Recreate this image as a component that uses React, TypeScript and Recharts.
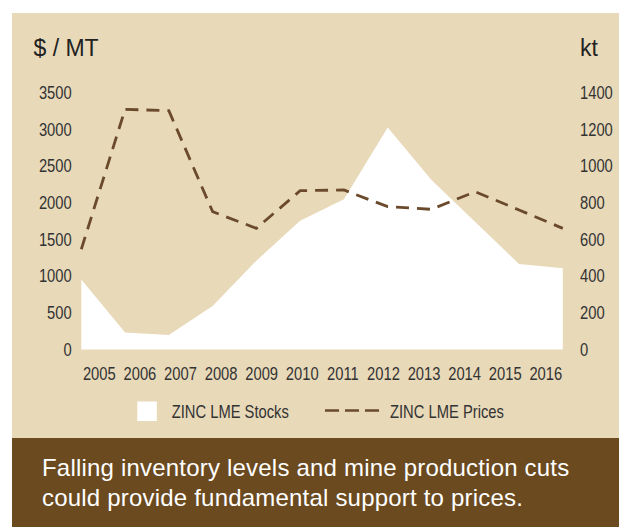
import React from "react";
import {
  ComposedChart,
  Area,
  Line,
  XAxis,
  YAxis,
  Legend,
} from "recharts";

const years = ["2005", "2006", "2007", "2008", "2009", "2010", "2011", "2012", "2013", "2014", "2015", "2016"];
// LME zinc stocks, kt (right axis)
const stocks = [382, 92, 79, 237, 484, 702, 818, 1210, 923, 694, 466, 442];
// LME zinc prices, $ / MT (left axis)
const prices = [1365, 3271, 3252, 1877, 1650, 2163, 2172, 1945, 1909, 2149, 1900, 1650];
const priceTicks = [0, 500, 1000, 1500, 2000, 2500, 3000, 3500];
const stockTicks = [0, 200, 400, 600, 800, 1000, 1200, 1400];

const data = years.map((y, i) => ({ i, year: y, stocks: stocks[i], prices: prices[i] }));

const BEIGE = "#e8d9b9";
const BROWN = "#6b4a1f";
const LINE = "#6b4a2b";
const SANS = "'Liberation Sans', Arial, sans-serif";
// no narrow face installed, so squeeze Liberation Sans like Arial Narrow does
const SQUEEZE = 0.82;

function NarrowText({ x, y, anchor, dy, children }: any) {
  return (
    <g transform={`translate(${x},${y})`}>
      <text
        transform={`scale(${SQUEEZE},1)`}
        textAnchor={anchor}
        dy={dy}
        fontFamily={SANS}
        fontSize={18}
        fill="#333"
      >
        {children}
      </text>
    </g>
  );
}

function YTick(props: any) {
  const { x, y, payload, textAnchor } = props;
  return (
    <NarrowText x={x} y={y} anchor={textAnchor} dy="0.355em">
      {payload.value}
    </NarrowText>
  );
}

function XTick(props: any) {
  const { x, y, payload } = props;
  return (
    <NarrowText x={x} y={y} anchor="middle" dy="0.71em">
      {years[payload.value]}
    </NarrowText>
  );
}

function ChartLegend(props: any) {
  const items = props.payload || [];
  const stock = items.find((it: any) => it.dataKey === "stocks");
  const price = items.find((it: any) => it.dataKey === "prices");
  return (
    <svg width={619} height={24} style={{ display: "block" }}>
      <rect x={137.3} y={1.5} width={19.5} height={19.5} fill="#fff" />
      <NarrowText x={171.7} y={11.5} anchor="start" dy="0.355em">
        {stock?.value}
      </NarrowText>
      <line x1={325} y1={10.5} x2={380} y2={10.5} stroke={LINE} strokeWidth={2.7} strokeDasharray="14 6" />
      <NarrowText x={390} y={11.5} anchor="start" dy="0.355em">
        {price?.value}
      </NarrowText>
    </svg>
  );
}

export default function App() {
  return (
    <div style={{ position: "relative", width: 619, height: 527, background: "#fff" }}>
      <style>{"body{margin:0}"}</style>
      <div style={{ position: "absolute", left: 12, top: 13, width: 607, height: 425, background: BEIGE }} />
      <div style={{ position: "absolute", left: 0, top: 0 }}>
        <ComposedChart width={619} height={438} data={data} margin={{ top: 92.5, right: 0, bottom: 58.5, left: 0 }}>
          <XAxis xAxisId="data" dataKey="i" type="number" domain={[0, 11]} height={0} hide />
          <XAxis
            xAxisId="labels"
            dataKey="i"
            type="number"
            domain={[0, 11]}
            ticks={data.map((d) => d.i)}
            padding={{ left: 18, right: 17 }}
            axisLine={false}
            tickLine={false}
            tickSize={0}
            tickMargin={17.5}
            height={30}
            interval={0}
            tick={<XTick />}
          />
          <YAxis
            yAxisId="left"
            orientation="left"
            domain={[0, 3500]}
            ticks={priceTicks}
            width={81.3}
            axisLine={false}
            tickLine={false}
            tickSize={0}
            tickMargin={9.6}
            interval={0}
            tick={<YTick />}
            label={{ value: "$ / MT", position: "top", offset: 36.5, dx: 25.4, style: { fontFamily: SANS, fontSize: 23, fill: "#222" } }}
          />
          <YAxis
            yAxisId="right"
            orientation="right"
            domain={[0, 1400]}
            ticks={stockTicks}
            width={56.2}
            axisLine={false}
            tickLine={false}
            tickSize={0}
            tickMargin={17.2}
            interval={0}
            tick={<YTick />}
            label={{ value: "kt", position: "top", offset: 36.5, dx: -2, style: { fontFamily: SANS, fontSize: 23, fill: "#222" } }}
          />
          <Area
            xAxisId="data"
            yAxisId="right"
            type="linear"
            dataKey="stocks"
            name="ZINC LME Stocks"
            fill="#ffffff"
            fillOpacity={1}
            stroke="none"
            isAnimationActive={false}
          />
          <Line
            xAxisId="data"
            yAxisId="left"
            type="linear"
            dataKey="prices"
            name="ZINC LME Prices"
            stroke={LINE}
            strokeWidth={2.8}
            strokeDasharray="13 8"
            dot={false}
            activeDot={false}
            isAnimationActive={false}
          />
          <Legend
            layout="horizontal"
            verticalAlign="middle"
            align="center"
            wrapperStyle={{ top: 399.5, left: 0, width: 619 }}
            content={<ChartLegend />}
          />
        </ComposedChart>
      </div>
      <div
        style={{
          position: "absolute",
          left: 12,
          top: 438,
          width: 607,
          height: 89,
          background: BROWN,
          color: "#fff",
          fontFamily: SANS,
          fontSize: 24,
          letterSpacing: 0.2,
          lineHeight: "30px",
          paddingLeft: 30,
          paddingTop: 14.8,
          boxSizing: "border-box",
          whiteSpace: "nowrap",
        }}
      >
        Falling inventory levels and mine production cuts
        <br />
        could provide fundamental support to prices.
      </div>
    </div>
  );
}
